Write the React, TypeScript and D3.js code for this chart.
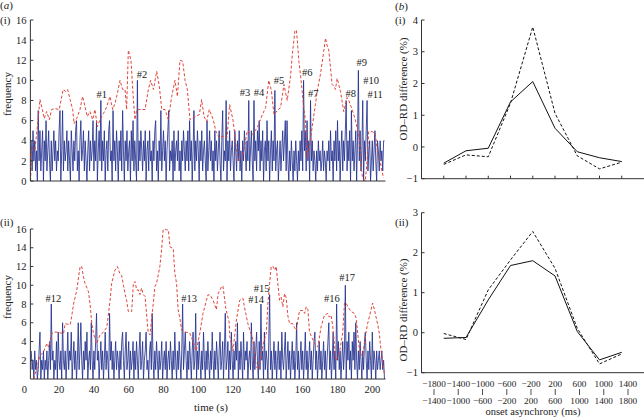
import React from 'react';
import * as d3 from 'd3';

// ---------- data ----------
// blue (frequency) series, sampled every 0.5 s starting at 4 s
const BLUE_T0 = 4;
const BLUE_DT = 0.5;
const BLUE_TOP: number[] = [
  4,1,5,2,4,1,3,0,7,2,5,1,3,5,0,4,2,6,1,3,
  5,2,0,4,1,3,5,2,4,1,3,2,5,7,0,3,7,1,4,2,
  3,5,1,4,2,0,5,3,1,4,2,5,6,1,3,0,4,6,2,3,
  5,1,4,2,0,3,5,1,4,2,3,6,1,4,2,6,0,3,5,2,
  8,1,4,2,5,0,3,4,1,5,6,2,3,0,7,2,4,1,5,3,
  0,4,2,5,1,7,3,0,4,2,5,1,3,4,0,5,2,6,1,4,
  2,0,10,1,4,2,5,3,1,4,2,5,0,3,4,1,5,2,3,0,
  4,2,5,6,1,3,0,4,2,7,1,3,5,2,4,0,3,5,7,1,
  3,2,4,0,5,1,3,4,2,5,1,3,0,4,2,5,3,1,4,2,
  5,1,6,2,4,0,3,7,1,4,2,5,3,0,4,2,5,1,3,4,
  2,0,6,1,3,5,2,4,1,3,0,5,2,4,1,3,5,2,0,4,
  7,1,3,2,8,0,4,2,5,1,3,4,2,0,5,3,1,4,2,5,
  1,3,0,4,2,5,3,1,4,2,8,1,3,5,2,0,8,2,4,1,
  5,3,6,1,4,2,5,0,3,4,1,6,2,4,0,3,5,1,4,2,
  9,1,3,4,0,2,4,1,3,5,2,4,6,1,6,2,0,3,1,4,
  2,0,3,1,4,2,0,3,1,4,2,5,1,10,3,5,1,6,2,4,
  0,8,2,4,1,3,2,0,3,1,4,2,3,1,2,4,1,3,2,0,
  3,2,4,1,5,2,3,0,4,2,5,1,6,2,4,0,3,5,1,4,
  2,5,8,1,4,2,5,0,7,2,4,1,3,5,0,4,11,2,5,1,
  3,8,0,4,2,5,8,1,3,4,0,2,4,1,3,5,2,0,4,3,
  1,4,2,3,1,4,4,
];
const BLUE_BOTTOM: number[] = [
  3,1,2,0,3,1,2,0,1,3,5,0,2,1,3,0,2,1,3,0,
  2,4,1,8,2,3,0,2,1,4,0,5,2,1,3,0,6,2,1,3,
  0,2,5,1,3,2,5,0,2,4,1,3,0,2,6,1,3,6,2,0,
  3,1,4,2,5,0,2,3,1,6,2,0,3,1,4,7,2,3,0,2,
  4,1,3,0,2,5,1,3,2,0,7,2,4,1,3,0,2,4,1,3,
  2,0,3,1,4,5,2,0,3,5,1,2,4,0,3,1,2,4,0,3,
  1,4,2,0,3,5,1,2,4,0,2,3,5,1,2,0,3,4,1,7,
  2,0,3,1,4,2,0,3,1,2,4,0,2,3,1,4,0,2,3,1,
  4,2,0,3,1,5,2,0,3,1,4,2,0,3,8,1,3,5,2,0,
  3,1,4,2,0,3,5,1,2,7,0,3,1,4,2,0,3,1,5,2,
  0,3,1,4,2,0,3,1,5,2,0,3,1,4,2,0,3,5,1,2,
  4,0,3,7,1,2,4,0,3,1,5,2,0,3,1,4,2,6,0,3,
  1,4,2,0,5,1,3,2,4,0,2,3,1,6,2,0,4,1,3,5,
  2,0,4,1,8,2,3,0,5,1,3,2,0,4,9,1,3,0,2,4,
  1,3,0,2,4,1,3,0,5,2,1,3,5,0,2,4,1,3,0,2,
  4,1,3,0,2,6,1,3,0,2,4,1,3,0,2,5,1,3,0,2,
  4,1,3,0,2,4,5,1,3,0,2,4,1,3,0,2,4,1,3,0,
  2,4,6,1,3,0,2,5,1,3,0,8,2,4,1,3,0,2,4,1,
  3,10,0,4,2,5,1,3,0,4,2,5,1,6,2,0,3,1,4,2,
  0,3,1,4,5,2,0,3,1,4,2,0,5,1,3,2,0,3,1,2,
  3,1,2,3,1,2,0,
];
// red dashed (smoothed) series: [time s, frequency]
const RED_TOP: [number, number][] = [
  [3.6,0],[4.2,3.1],[6.1,3.1],[7.5,5.4],[9,8.1],[10.4,7.1],[11.5,6.2],[12.8,6.9],[14.4,6.1],[15.7,7.1],
  [17.6,7.2],[20.1,7.1],[21.5,8.4],[22.4,9.1],[23.8,8.9],[24.9,9.1],[26.3,8.1],[27.8,7.1],[28.6,5.7],[30.1,6.2],
  [32,7.1],[33.5,8.4],[34.9,7.4],[36.2,6.4],[37.7,6.9],[39.3,6.1],[40.6,7.1],[42,5.4],[43.5,6.1],[45.5,6.7],
  [47.4,7.4],[49.2,8.4],[50.8,7.1],[52.1,7.7],[53.5,8.7],[55,10],[56.5,9.1],[57.9,9.1],[58.8,7.1],[59.8,13],
  [61.3,12],[62.7,8.1],[63.6,6.1],[64.6,7.1],[66.5,7.1],[69.4,7.1],[71.3,9.1],[72.6,10],[74.2,9.1],[76.1,10.9],
  [77.6,9.4],[79,7.1],[80.9,7.1],[82.8,6.1],[84.7,8.4],[86.6,10],[88,8.4],[89.5,12],[91,11.9],[92.4,10],
  [93.7,9.1],[95.2,6.1],[98.1,6.4],[100.6,6.6],[101.9,8.1],[103.3,6.4],[104.8,5.9],[106.3,7.1],[108.6,6.1],[110,5],
  [112,4.3],[115,4.5],[116.5,4.3],[118,7.6],[120,6],[122,3],[123.4,2],[125.3,2.3],[128.2,5],[131,4.6],
  [133.9,5.3],[136.8,6.6],[138.7,7.3],[140.5,10],[142,9],[143.5,6.6],[145.4,7],[147.3,7.3],[149.2,9.6],[151.1,8],
  [153,10.4],[154,12.5],[155.5,14.9],[156.4,15],[157.2,13.3],[157.8,11.9],[158.7,10.6],[159.7,8.9],[160.6,7.3],[161.6,6],
  [162.6,2.3],[163.5,3],[165.4,5.3],[167.3,7.6],[168.3,8.9],[170.2,10.6],[172.1,12.9],[173.1,14.2],[174,13.5],[175,13],
  [176.9,9.6],[178,9.4],[178.8,9.1],[179.8,10.2],[181.7,8.9],[183.6,6.9],[185.5,8.3],[186.5,8],[188,7.3],[189.9,6.3],
  [192.6,4.3],[193.5,1.5],[194.4,0.3],[196,0],[197,2],[197.9,4.9],[200,4.9],[201.7,4.7],[203.5,2.3],[204.6,1.9],
  [205.5,1],[206.5,0.3],
];
const RED_BOTTOM: [number, number][] = [
  [5.3,0],[7,1],[9,2.5],[11.1,2.9],[13,3.8],[14,3.4],[15.9,4.9],[17.5,5],[19.7,5],[22.5,4.8],
  [23.5,5.9],[26.4,5.8],[27.5,7],[28.3,8],[30.2,9.5],[31.2,10.9],[32.1,12],[33,12],[34,10.9],[34.9,10.2],
  [36.9,9.3],[37.8,8],[38.8,5.9],[39.7,4.9],[40.7,4.2],[41.6,3.8],[43.5,4.7],[45.5,5],[47.4,5.5],[49.3,8.4],
  [50.2,10.2],[52.1,11.6],[53.5,12],[55,11.2],[56,11],[57,10],[58,9],[58.8,8.4],[59.8,7.2],[61.7,7.2],
  [62.7,10.2],[63.6,10.4],[64.6,9.5],[65.5,9.5],[66.5,9],[67.4,9.7],[68.4,9],[69.4,8.8],[71.2,5],[72.2,4.7],
  [74.1,8],[75.1,9.9],[76,10.2],[77.9,12],[78.9,13.8],[79.8,15.9],[80.8,16],[81.8,15.9],[82.8,15.9],[83.7,14.1],
  [85.6,13.9],[86.5,11.3],[87.5,10.2],[88.4,7.4],[89.4,6.5],[90.4,5.2],[92.8,5],[95.1,4.9],[97,4],[98.8,3],
  [100.9,4.9],[102.7,7],[104.7,8.4],[105.6,9],[107,8.9],[108.5,8.4],[110.4,7.4],[111.4,9.1],[113.5,9.9],[114.2,9.9],
  [115.8,7.5],[117.7,6.1],[118.1,4.5],[120,3],[121.9,6.3],[123.8,8.4],[125.7,8.6],[126.3,7.9],[128.5,5.9],[131.4,4.2],
  [133.3,1.3],[134.8,1],[136,2.5],[137.1,3.6],[139.1,4.9],[140,8],[141,10.2],[141.9,12],[143,12],[144,11.6],
  [144.8,12],[145.7,10.2],[146.7,8.4],[147.6,8.7],[148.6,7.7],[149.6,9.1],[150.5,8.7],[151.5,6.7],[152.5,5.9],[154.3,5.9],
  [155.3,5.5],[156.3,5.2],[158.2,7.3],[160.1,7.3],[161.1,7],[162,7.7],[163,7.4],[163.9,5],[166.8,3.8],[168.7,3.4],
  [170.6,5.6],[172.5,6.8],[174.4,7],[175.3,6.6],[176.3,6.8],[177.3,5.6],[178.2,3.8],[179.2,2],[180.2,2.4],[181.1,2.8],
  [183,4.9],[184,8.1],[185,8.1],[185.9,7.7],[187.8,7.2],[189.7,7],[190.7,6.5],[191.6,4.9],[192.6,3.1],[194.4,2.4],
  [196.3,4.9],[197.3,5.9],[199.3,7.4],[200.2,8.1],[201.2,7.4],[203,5.9],[204,4.9],[205,3.1],[206.9,0.6],
];
// event annotations: label, time (s), frequency
const EVENTS_TOP: [string, number, number][] = [
  ['#1',44.5,8.25],['#2',67.6,10.24],['#3',126.8,8.45],['#4',134.9,8.45],['#5',146.4,9.64],['#6',162.6,10.47],
  ['#7',166.1,8.35],['#8',187.6,8.35],['#9',193.9,11.46],['#10',199.3,9.64],['#11',201.6,8.25],
];
const EVENTS_BOTTOM: [string, number, number][] = [
  ['#12',16.7,8.25],['#13',94.7,8.25],['#14',133.2,8.1],['#15',136.4,9.3],['#16',176.7,8.25],['#17',185.6,10.5],
];
const TIME_TICKS = [0,20,40,60,80,100,120,140,160,180,200];
const FREQ_TICKS_TOP = [0,2,4,6,8,10,12,14,16];
const FREQ_TICKS_BOTTOM = [2,4,6,8,10,12,14,16];

// onset asynchrony bins
const BIN_LOW = ['−1800','−1400','−1000','−600','−200','200','600','1000','1400'];
const BIN_HIGH = ['−1400','−1000','−600','−200','200','600','1000','1400','1800'];
const DIFF_TOP_SOLID = [-0.51,-0.12,-0.04,1.42,2.06,0.59,-0.15,-0.34,-0.46];
const DIFF_TOP_DASHED = [-0.55,-0.25,-0.31,1.38,3.78,1.06,-0.28,-0.69,-0.48];
const DIFF_BOTTOM_SOLID = [-0.14,-0.12,0.82,1.68,1.8,1.42,0.03,-0.68,-0.49];
const DIFF_BOTTOM_DASHED = [-0.02,-0.17,1.07,1.82,2.53,1.61,0.11,-0.78,-0.53];
const DIFF_TICKS_TOP = [-1,0,1,2,3,4];
const DIFF_TICKS_BOTTOM = [-1,0,1,2,3];

// ---------- styles ----------
const FONT = "'Liberation Serif', 'Times New Roman', serif";
const BLUE = '#22308f';
const RED = '#e0453c';
const AXIS = '#333';
const TXT = '#222';

export default function App() {
  const xTime = d3.scaleLinear().domain([0, 200]).range([24.3, 372.3]);
  const tStart = 3.5, tEnd = 207.6;
  const yTop = d3.scaleLinear().domain([0, 16]).range([181, 20]);
  const yBot = d3.scaleLinear().domain([0, 16]).range([379, 229]);

  const xCat = d3.scaleLinear().domain([-1, 9]).range([421.5, 644]);
  const xBinLabel = d3.scalePoint<string>().domain(BIN_LOW).range([434, 628]);
  const yDiffTop = d3.scaleLinear().domain([-1, 4]).range([178.7, 20]);
  const yDiffBot = d3.scaleLinear().domain([-1, 3]).range([372.7, 212.7]);

  const blueLine = (data: number[], y: d3.ScaleLinear<number, number>) =>
    d3.line<number>().x((_, i) => xTime(BLUE_T0 + i * BLUE_DT)).y((d) => y(d))(data) || '';
  const redLine = (data: [number, number][], y: d3.ScaleLinear<number, number>) =>
    d3.line<[number, number]>().x((d) => xTime(d[0])).y((d) => y(d[1]))(data) || '';
  const diffLine = (data: number[], y: d3.ScaleLinear<number, number>) =>
    d3.line<number>().x((_, i) => xCat(i)).y((d) => y(d))(data) || '';

  const leftPanel = (
    blue: number[], red: [number, number][], events: [string, number, number][],
    y: d3.ScaleLinear<number, number>, ticks: number[], key: string
  ) => {
    const x0 = xTime(tStart), x1 = xTime(tEnd);
    const [yb, yt] = y.range();
    return (
      <g key={key}>
        <path d={blueLine(blue, y)} fill="none" stroke={BLUE} strokeWidth={0.85} />
        <path d={redLine(red, y)} fill="none" stroke={RED} strokeWidth={1} strokeDasharray="3,2" />
        <line x1={x0} x2={x0} y1={yb} y2={yt} stroke={AXIS} strokeWidth={1} />
        <line x1={x0} x2={x1} y1={yb} y2={yb} stroke={AXIS} strokeWidth={1} />
        {ticks.map((t) => (
          <g key={t}>
            <line x1={x0} x2={x0 + 3} y1={y(t)} y2={y(t)} stroke={AXIS} />
            <text x={26.5} y={y(t)} dy="0.35em" textAnchor="end" fontSize={10.5} fill={TXT}>{t}</text>
          </g>
        ))}
        {events.map(([lab, t, v]) => (
          <text key={lab} x={xTime(t)} y={y(v)} textAnchor="middle" fontSize={10.5} fill={TXT}>{lab}</text>
        ))}
      </g>
    );
  };

  const rightPanel = (
    solid: number[], dashed: number[], y: d3.ScaleLinear<number, number>,
    ticks: number[], xTicks: boolean, key: string
  ) => {
    const [yb, yt] = y.range();
    const x0 = xCat(-1), x1 = xCat(9);
    return (
      <g key={key}>
        <path d={diffLine(solid, y)} fill="none" stroke="#111" strokeWidth={1} />
        <path d={diffLine(dashed, y)} fill="none" stroke="#111" strokeWidth={1} strokeDasharray="3,2" />
        <line x1={x0} x2={x0} y1={yb} y2={yt} stroke={AXIS} />
        <line x1={x0} x2={x1} y1={yb} y2={yb} stroke={AXIS} />
        {ticks.map((t) => (
          <g key={t}>
            <line x1={x0} x2={x0 + 3} y1={y(t)} y2={y(t)} stroke={AXIS} />
            <text x={418} y={y(t)} dy="0.35em" textAnchor="end" fontSize={10.5} fill={TXT}>
              {t < 0 ? '−' + Math.abs(t) : t}
            </text>
          </g>
        ))}
        {xTicks && BIN_LOW.map((_, i) => (
          <line key={i} x1={xCat(i)} x2={xCat(i)} y1={yb} y2={yb - 3} stroke={AXIS} />
        ))}
      </g>
    );
  };

  return (
    <svg width={644} height={417} style={{ position: 'absolute', left: 0, top: 0, background: '#fff' }}
      fontFamily={FONT}>
      <rect x={0} y={0} width={644} height={417} fill="#fff" />
      {leftPanel(BLUE_TOP, RED_TOP, EVENTS_TOP, yTop, FREQ_TICKS_TOP, 'lt')}
      {leftPanel(BLUE_BOTTOM, RED_BOTTOM, EVENTS_BOTTOM, yBot, FREQ_TICKS_BOTTOM, 'lb')}
      {TIME_TICKS.map((t) => (
        <text key={t} x={xTime(t)} y={393} textAnchor="middle" fontSize={10.5} fill={TXT}>{t}</text>
      ))}
      <text x={211} y={411} textAnchor="middle" fontSize={11} fill={TXT}>time (s)</text>
      <text transform="translate(7,94) rotate(-90)" textAnchor="middle" dy="0.35em" fontSize={11} fill={TXT}>frequency</text>
      <text transform="translate(7,297) rotate(-90)" textAnchor="middle" dy="0.35em" fontSize={11} fill={TXT}>frequency</text>
      <text x={0} y={8.5} fontSize={11} fill={TXT}>(<tspan fontStyle="italic">a</tspan>)</text>
      <text x={0} y={23.5} fontSize={11} fill={TXT}>(i)</text>
      <text x={0} y={226} fontSize={11} fill={TXT}>(ii)</text>

      {rightPanel(DIFF_TOP_SOLID, DIFF_TOP_DASHED, yDiffTop, DIFF_TICKS_TOP, true, 'rt')}
      {rightPanel(DIFF_BOTTOM_SOLID, DIFF_BOTTOM_DASHED, yDiffBot, DIFF_TICKS_BOTTOM, false, 'rb')}
      {BIN_LOW.map((lab, i) => (
        <g key={lab + i}>
          <text x={xBinLabel(lab)} y={387} textAnchor="middle" fontSize={9.2} fill={TXT}>{lab}</text>
          <line x1={(xBinLabel(lab) || 0)} x2={(xBinLabel(lab) || 0)} y1={389} y2={395} stroke={TXT} strokeWidth={0.8} />
          <text x={xBinLabel(lab)} y={404} textAnchor="middle" fontSize={9.2} fill={TXT}>{BIN_HIGH[i]}</text>
        </g>
      ))}
      <text x={533} y={414.5} textAnchor="middle" fontSize={10.5} fill={TXT}>onset asynchrony (ms)</text>
      <text transform="translate(403,89) rotate(-90)" textAnchor="middle" dy="0.35em" fontSize={11} fill={TXT}>OD–RD difference (%)</text>
      <text transform="translate(403,310) rotate(-90)" textAnchor="middle" dy="0.35em" fontSize={11} fill={TXT}>OD–RD difference (%)</text>
      <text x={395} y={10} fontSize={11} fill={TXT}>(<tspan fontStyle="italic">b</tspan>)</text>
      <text x={395} y={23.5} fontSize={11} fill={TXT}>(i)</text>
      <text x={395} y={226} fontSize={11} fill={TXT}>(ii)</text>
    </svg>
  );
}
